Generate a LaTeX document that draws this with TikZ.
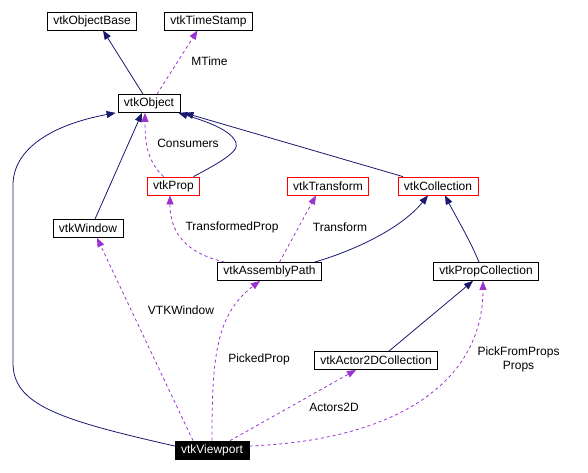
\documentclass[tikz,border=0pt]{standalone}
\usepackage{fontspec}
\setmainfont{Liberation Sans}
\usetikzlibrary{arrows.meta}
\definecolor{inheritblue}{HTML}{191970}
\definecolor{usepurple}{HTML}{9A32CD}

\begin{document}
\begin{tikzpicture}[x=1pt,y=-1pt,
    >={Triangle[length=9pt,width=7pt]},
    cls/.style={draw=black,line width=0.8pt,inner xsep=6pt,inner ysep=0pt,
      minimum height=18pt,font=\fontsize{12}{14}\selectfont},
    undoc/.style={cls,draw=red},
    self/.style={cls,fill=black,text=white},
    lbl/.style={inner sep=0pt,font=\fontsize{12}{14}\selectfont,align=center},
    inherit/.style={->,inheritblue,line width=0.8pt},
    usage/.style={->,usepurple,line width=0.8pt,dash pattern=on 3pt off 3pt}]

    \useasboundingbox (0,0) rectangle (588,472);

    %% classes
    \node[cls] (vtkObjectBase) at (92,21) {vtkObjectBase};
    \node[cls] (vtkTimeStamp) at (208.5,21) {vtkTimeStamp};
    \node[cls] (vtkObject) at (149,103.5) {vtkObject};
    \node[undoc] (vtkProp) at (173.5,186) {vtkProp};
    \node[undoc] (vtkTransform) at (328,186) {vtkTransform};
    \node[undoc] (vtkCollection) at (438,186) {vtkCollection};
    \node[cls] (vtkWindow) at (88,228.5) {vtkWindow};
    \node[cls] (vtkAssemblyPath) at (269.5,271.5) {vtkAssemblyPath};
    \node[cls] (vtkPropCollection) at (486,271.5) {vtkPropCollection};
    \node[cls] (vtkActor2DCollection) at (376,360.5) {vtkActor2DCollection};
    \node[self] (vtkViewport) at (212,450) {vtkViewport};

    %% edge labels
    \node[lbl] (lblMTime) at (209.5,61) {MTime};
    \node[lbl] (lblConsumers) at (188,143) {Consumers};
    \node[lbl] (lblTransformedProp) at (232,227) {TransformedProp};
    \node[lbl] (lblTransform) at (340,227) {Transform};
    \node[lbl] (lblVTKWindow) at (181,310) {VTKWindow};
    \node[lbl] (lblPickedProp) at (259,359) {PickedProp};
    \node[lbl] (lblActors2D) at (334,407) {Actors2D};
    \node[lbl] (lblProps) at (518.5,359) {PickFromProps\\Props};

    %% inheritance
    \draw[inherit] ([xshift=-6pt]vtkObject.north) -- ([xshift=11pt]vtkObjectBase.south);
    \draw[inherit] ([xshift=7pt]vtkWindow.north) -- ([xshift=-7pt]vtkObject.south);
    \draw[inherit] ([xshift=20pt]vtkProp.north) .. controls (215,165) and (240,152)
      .. (236,143) .. controls (232,130) and (205,121) .. ([xshift=-2pt]vtkObject.south east);
    \draw[inherit] ([xshift=-35pt]vtkCollection.north) -- ([xshift=4pt]vtkObject.south east);
    \draw[inherit] ([yshift=4pt]vtkViewport.west) .. controls (60,420) and (13,405)
      .. (13,363) -- (13,185) .. controls (13,150) and (50,125) .. ([xshift=-2pt]vtkObject.south west);
    \draw[inherit] ([xshift=45pt]vtkAssemblyPath.north) .. controls (350,252) and (400,230)
      .. ([xshift=-10pt]vtkCollection.south);
    \draw[inherit] ([xshift=-7pt]vtkPropCollection.north) .. controls (470,240) and (455,215)
      .. ([xshift=7pt]vtkCollection.south);
    \draw[inherit] ([xshift=13pt]vtkActor2DCollection.north) -- ([xshift=-13pt]vtkPropCollection.south);

    %% usage
    \draw[usage] ([xshift=8pt]vtkObject.north) -- ([xshift=-11pt]vtkTimeStamp.south);
    \draw[usage] ([xshift=-10pt]vtkProp.north) .. controls (146,160) and (145,140)
      .. ([xshift=-4pt]vtkObject.south);
    \draw[usage] ([xshift=-45pt]vtkAssemblyPath.north) .. controls (195,255) and (170,240)
      .. ([xshift=-3.5pt]vtkProp.south);
    \draw[usage] ([xshift=10pt]vtkAssemblyPath.north) -- ([xshift=-12pt]vtkTransform.south);
    \draw[usage] ([xshift=-19pt]vtkViewport.north) -- ([xshift=9pt]vtkWindow.south);
    \draw[usage] (vtkViewport.north) .. controls (212,360) and (215,315)
      .. ([xshift=-9.5pt]vtkAssemblyPath.south);
    \draw[usage] ([xshift=18pt]vtkViewport.north) -- ([xshift=-20pt]vtkActor2DCollection.south);
    \draw[usage] ([yshift=4pt]vtkViewport.east) .. controls (400,440) and (483,380)
      .. ([xshift=-3pt]vtkPropCollection.south);

\end{tikzpicture}
\end{document}
